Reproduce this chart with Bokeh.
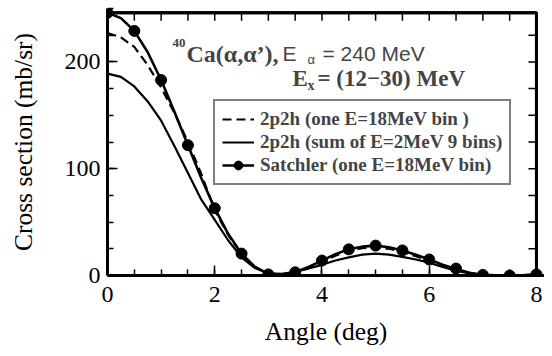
from bokeh.plotting import figure
from bokeh.models import Range1d, SingleIntervalTicker, Label, Legend, LegendItem, BoxAnnotation
from bokeh.embed import file_html
from bokeh.resources import INLINE

# Angles (deg)
curve_angle = [0, 0.25, 0.5, 0.75, 1.0, 1.25, 1.5, 1.75, 2.0, 2.25, 2.5, 2.75, 3.0, 3.25, 3.5,
               3.75, 4.0, 4.25, 4.5, 4.75, 5.0, 5.25, 5.5, 5.75, 6.0, 6.25, 6.5, 6.75, 7.0,
               7.25, 7.5, 7.75, 8.0]
# 2p2h (one E=18MeV bin) - dashed
one_bin = [227, 223, 214, 197, 176, 152, 125, 95, 61, 38, 20, 8, 2, 1, 3, 7, 13, 18.5, 23,
           25.5, 26.5, 25, 22, 18, 14, 9.5, 5.5, 2.5, 0.8, 0.3, 0.2, 0.4, 0.8]
# 2p2h (sum of E=2MeV 9 bins) - solid
sum_bins = [189, 186, 177, 163, 145, 121, 96, 71, 52, 33, 17, 7, 2, 1.5, 3.5, 6.5, 10, 14,
            17, 19.5, 20.5, 19.5, 17.5, 15, 12, 8, 4.5, 2, 0.8, 0.3, 0.2, 0.3, 0.5]
# Satchler (one E=18MeV bin) - curve
satchler_curve = [246, 241, 229, 209, 183, 153, 122, 91, 63, 39, 20.5, 8, 1.5, 1, 3, 8, 14,
                  20, 24.5, 27, 28, 26.5, 23.5, 19.5, 15, 10, 6, 2.5, 0.5, 0.2, 0, 0.3, 1]
# Satchler markers
sat_angle = [0, 0.5, 1.0, 1.5, 2.0, 2.5, 3.0, 3.5, 4.0, 4.5, 5.0, 5.5, 6.0, 6.5, 7.0, 7.5, 8.0]
sat_points = [246, 229, 183, 122, 63, 20.5, 1, 3, 14, 24.5, 28, 23.5, 15, 6.5, 0.5, 0, 1]

# axis limits of the box and mirrored tick positions on its top and right edges
x_min, x_max = 0.0, 8.0
y_min, y_max = 0.0, 246.0
top_ticks = [0.5, 1.0, 1.5, 2.0, 2.5, 3.0, 3.5, 4.0, 4.5, 5.0, 5.5, 6.0, 6.5, 7.0, 7.5]
right_ticks = [25.0, 50.0, 75.0, 100.0, 125.0, 150.0, 175.0, 200.0, 225.0]

x_label = "Angle (deg)"
y_label = "Cross section (mb/sr)"

p = figure(width=544, height=348, output_backend="svg", toolbar_location=None,
           x_range=Range1d(x_min, x_max + 0.15), y_range=Range1d(y_min, y_max + 4.0),
           min_border_left=107, min_border_right=0, min_border_top=8, min_border_bottom=73)
p.grid.visible = False
p.outline_line_color = None
p.background_fill_color = "white"
p.border_fill_color = "white"

p.xaxis.ticker = SingleIntervalTicker(interval=2, num_minor_ticks=4)
p.yaxis.ticker = SingleIntervalTicker(interval=100, num_minor_ticks=4)

for ax in (p.xaxis[0], p.yaxis[0]):
    ax.axis_line_width = 3
    ax.major_tick_in = 10
    ax.major_tick_out = 0
    ax.minor_tick_in = 6
    ax.minor_tick_out = 0
    ax.major_tick_line_width = 1.5
    ax.minor_tick_line_width = 1.5
    ax.major_label_text_font = "Liberation Serif"
    ax.major_label_text_font_size = "24px"
    ax.major_label_text_color = "black"
    ax.axis_label_text_font = "Liberation Serif"
    ax.axis_label_text_font_size = "25.5px"
    ax.axis_label_text_font_style = "normal"
    ax.axis_label_text_color = "black"

p.xaxis.axis_label = x_label
p.yaxis.axis_label = y_label
p.xaxis.major_label_standoff = 11
p.yaxis.major_label_standoff = 7
p.xaxis.axis_label_standoff = 12
p.yaxis.axis_label_standoff = 24

# box around the plot area (annotation) and its top / right edges with inward ticks
p.add_layout(BoxAnnotation(left=x_min, right=x_max, bottom=y_min, top=y_max,
                           fill_alpha=0.0, fill_color=None, line_color="black",
                           line_width=3, line_alpha=1.0))
top_len = 7.5      # in y units (about 8 px)
right_len = 0.15   # in x units (about 8 px)
p.line(x=[x_min, x_max, x_max], y=[y_max, y_max, y_min], line_color="black", line_width=3)
p.segment(x0=top_ticks, y0=[y_max] * len(top_ticks), x1=top_ticks,
          y1=[y_max - top_len] * len(top_ticks), line_color="black", line_width=1.5)
p.segment(x0=[x_max] * len(right_ticks), y0=right_ticks,
          x1=[x_max - right_len] * len(right_ticks), y1=right_ticks,
          line_color="black", line_width=1.5)

r_dash = p.line(curve_angle, one_bin, line_color="black", line_width=2.2, line_dash="9 5")
r_sum = p.line(curve_angle, sum_bins, line_color="black", line_width=2.2)
r_sat = p.line(curve_angle, satchler_curve, line_color="black", line_width=2.6)
r_pts = p.scatter(sat_angle, sat_points, marker="circle", size=11, fill_color="black",
                  line_color="black")

legend = Legend(items=[
    LegendItem(label="2p2h (one E=18MeV bin )", renderers=[r_dash]),
    LegendItem(label="2p2h (sum of E=2MeV 9 bins)", renderers=[r_sum]),
    LegendItem(label="Satchler (one E=18MeV bin)", renderers=[r_sat, r_pts]),
], location=(106, 90), label_text_font="Liberation Serif", label_text_font_style="bold",
    label_text_font_size="19px", glyph_width=32, glyph_height=22, label_height=22,
    label_standoff=6, padding=7, spacing=1, margin=0, border_line_color="black",
    border_line_width=2, background_fill_color="white", background_fill_alpha=1)
p.add_layout(legend, "center")

serif = "Liberation Serif"
sans = "Liberation Sans"


def lab(x, y, text, font, size, bold=False):
    p.add_layout(Label(x=x, y=y, x_units="screen", y_units="screen", text=text,
                       text_font=font, text_font_size=size, text_baseline="alphabetic",
                       text_font_style="bold" if bold else "normal"))


lab(65, 233, "40", serif, "13px", True)
lab(79, 222, "Ca(α,α’),", serif, "24px", True)
lab(175, 222, "E", sans, "21px")
lab(200, 216, "α", sans, "13px")
lab(215, 222, "= 240 MeV", sans, "21px")
lab(185, 197, "E", serif, "23px", True)
lab(200, 190, "x", serif, "14px", True)
lab(210, 197, "= (12−30) MeV", serif, "23px", True)

open("out.html", "w").write(file_html(p, INLINE))
